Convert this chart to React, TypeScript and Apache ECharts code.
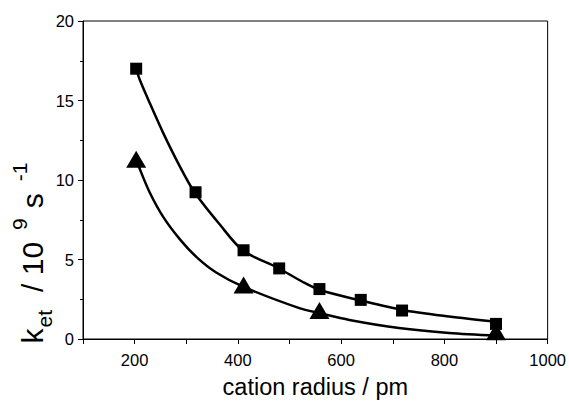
import React, { useEffect, useRef } from "react";
import * as echarts from "echarts";

// measured points
const squareX = [203, 318, 411, 480, 558, 638, 718, 900];
const squareY = [17.0, 9.23, 5.58, 4.44, 3.14, 2.46, 1.79, 0.95];
const triangleX = [203, 411, 558, 900];
const triangleY = [11.3, 3.39, 1.8, 0.45];
// fit curves
const squareFitX = [203, 210, 229, 255, 287, 316, 365, 410, 477, 525, 559, 638, 718, 809, 902];
const squareFitY = [17.0, 16.3, 14.86, 12.98, 10.89, 9.23, 7.2, 5.56, 4.48, 3.6, 3.08, 2.42, 1.83, 1.42, 1.08];
const triangleFitX = [203, 210, 229, 255, 287, 320, 358, 410, 519, 559, 616, 712, 809, 902];
const triangleFitY = [11.3, 10.69, 9.23, 7.7, 6.3, 5.15, 4.18, 3.29, 1.94, 1.62, 1.2, 0.69, 0.375, 0.21];
const xTicks = [200, 400, 600, 800, 1000];
const yTicks = [0, 5, 10, 15, 20];

const FONT = "Liberation Sans, Arial, Helvetica, sans-serif";

export default function App() {
  const ref = useRef<HTMLDivElement>(null);
  useEffect(() => {
    if (!ref.current) return;
    const chart = echarts.init(ref.current, undefined, { renderer: "svg" });
    const sq = squareX.map((x, i) => [x, squareY[i]]);
    const tr = triangleX.map((x, i) => [x, triangleY[i]]);
    const sqFit = squareFitX.map((x, i) => [x, squareFitY[i]]);
    const trFit = triangleFitX.map((x, i) => [x, triangleFitY[i]]);
    chart.setOption({
      animation: false,
      backgroundColor: "#fff",
      textStyle: { fontFamily: FONT },
      grid: {
        left: 83,
        right: 20,
        top: 21,
        bottom: 63,
        show: true,
        borderColor: "#000",
        borderWidth: 1,
        backgroundColor: "transparent",
      },
      xAxis: {
        type: "value",
        min: 100,
        max: 1000,
        interval: 100,
        axisLine: { show: true, lineStyle: { color: "#000", width: 1 } },
        axisTick: { show: true, inside: false, length: 5, lineStyle: { color: "#000" } },
        splitLine: { show: false },
        axisLabel: {
          color: "#000",
          fontSize: 16.5,
          fontFamily: FONT,
          margin: 12,
          formatter: (v: number) => (xTicks.includes(v) ? String(v) : ""),
        },
        name: "cation radius / pm",
        nameLocation: "middle",
        nameGap: 36,
        nameTextStyle: { color: "#000", fontSize: 23.5, fontFamily: FONT },
      },
      yAxis: {
        type: "value",
        min: yTicks[0],
        max: yTicks[yTicks.length - 1],
        interval: 5,
        axisLine: { show: true, lineStyle: { color: "#000", width: 1 } },
        axisTick: { show: true, inside: false, length: 5, lineStyle: { color: "#000" } },
        minorTick: { show: true, splitNumber: 2, length: 3, lineStyle: { color: "#000" } },
        splitLine: { show: false },
        axisLabel: { color: "#000", fontSize: 16.5, fontFamily: FONT, margin: 9 },
      },
      graphic: [
        {
          type: "text",
          x: 32,
          y: 248,
          rotation: Math.PI / 2,
          style: {
            text: "{k|k}{sub|et}{n|/ 10}{sup|9}{n|s}{sup|-1}",
            align: "center",
            verticalAlign: "middle",
            fill: "#000",
            fontFamily: FONT,
            rich: {
              k: { fontSize: 30, fontFamily: FONT, lineHeight: 46, verticalAlign: "middle", fill: "#000", padding: [0, 1, 0, 0] },
              n: { fontSize: 30, fontFamily: FONT, lineHeight: 46, verticalAlign: "middle", fill: "#000", padding: [0, 12, 0, 0] },
              sub: { fontSize: 21, fontFamily: FONT, lineHeight: 21, verticalAlign: "bottom", fill: "#000", padding: [0, 18, 0, 0] },
              sup: { fontSize: 21, fontFamily: FONT, lineHeight: 21, verticalAlign: "top", fill: "#000", padding: [0, 10, 0, 0] },
            },
          },
        },
      ],
      series: [
        {
          type: "line",
          data: sqFit,
          smooth: 0.3,
          symbol: "none",
          lineStyle: { color: "#000", width: 2.5 },
          z: 2,
        },
        {
          type: "line",
          data: trFit,
          smooth: 0.3,
          symbol: "none",
          lineStyle: { color: "#000", width: 2.5 },
          z: 2,
        },
        {
          type: "scatter",
          data: sq,
          symbol: "rect",
          symbolSize: 12,
          itemStyle: { color: "#000", opacity: 1 },
          z: 3,
        },
        {
          type: "scatter",
          data: tr,
          symbol: "triangle",
          symbolSize: [20, 17],
          itemStyle: { color: "#000", opacity: 1 },
          z: 3,
        },
      ],
    });
    return () => chart.dispose();
  }, []);
  return (
    <div
      ref={ref}
      style={{ position: "absolute", left: 0, top: 0, width: 569, height: 404 }}
    />
  );
}
